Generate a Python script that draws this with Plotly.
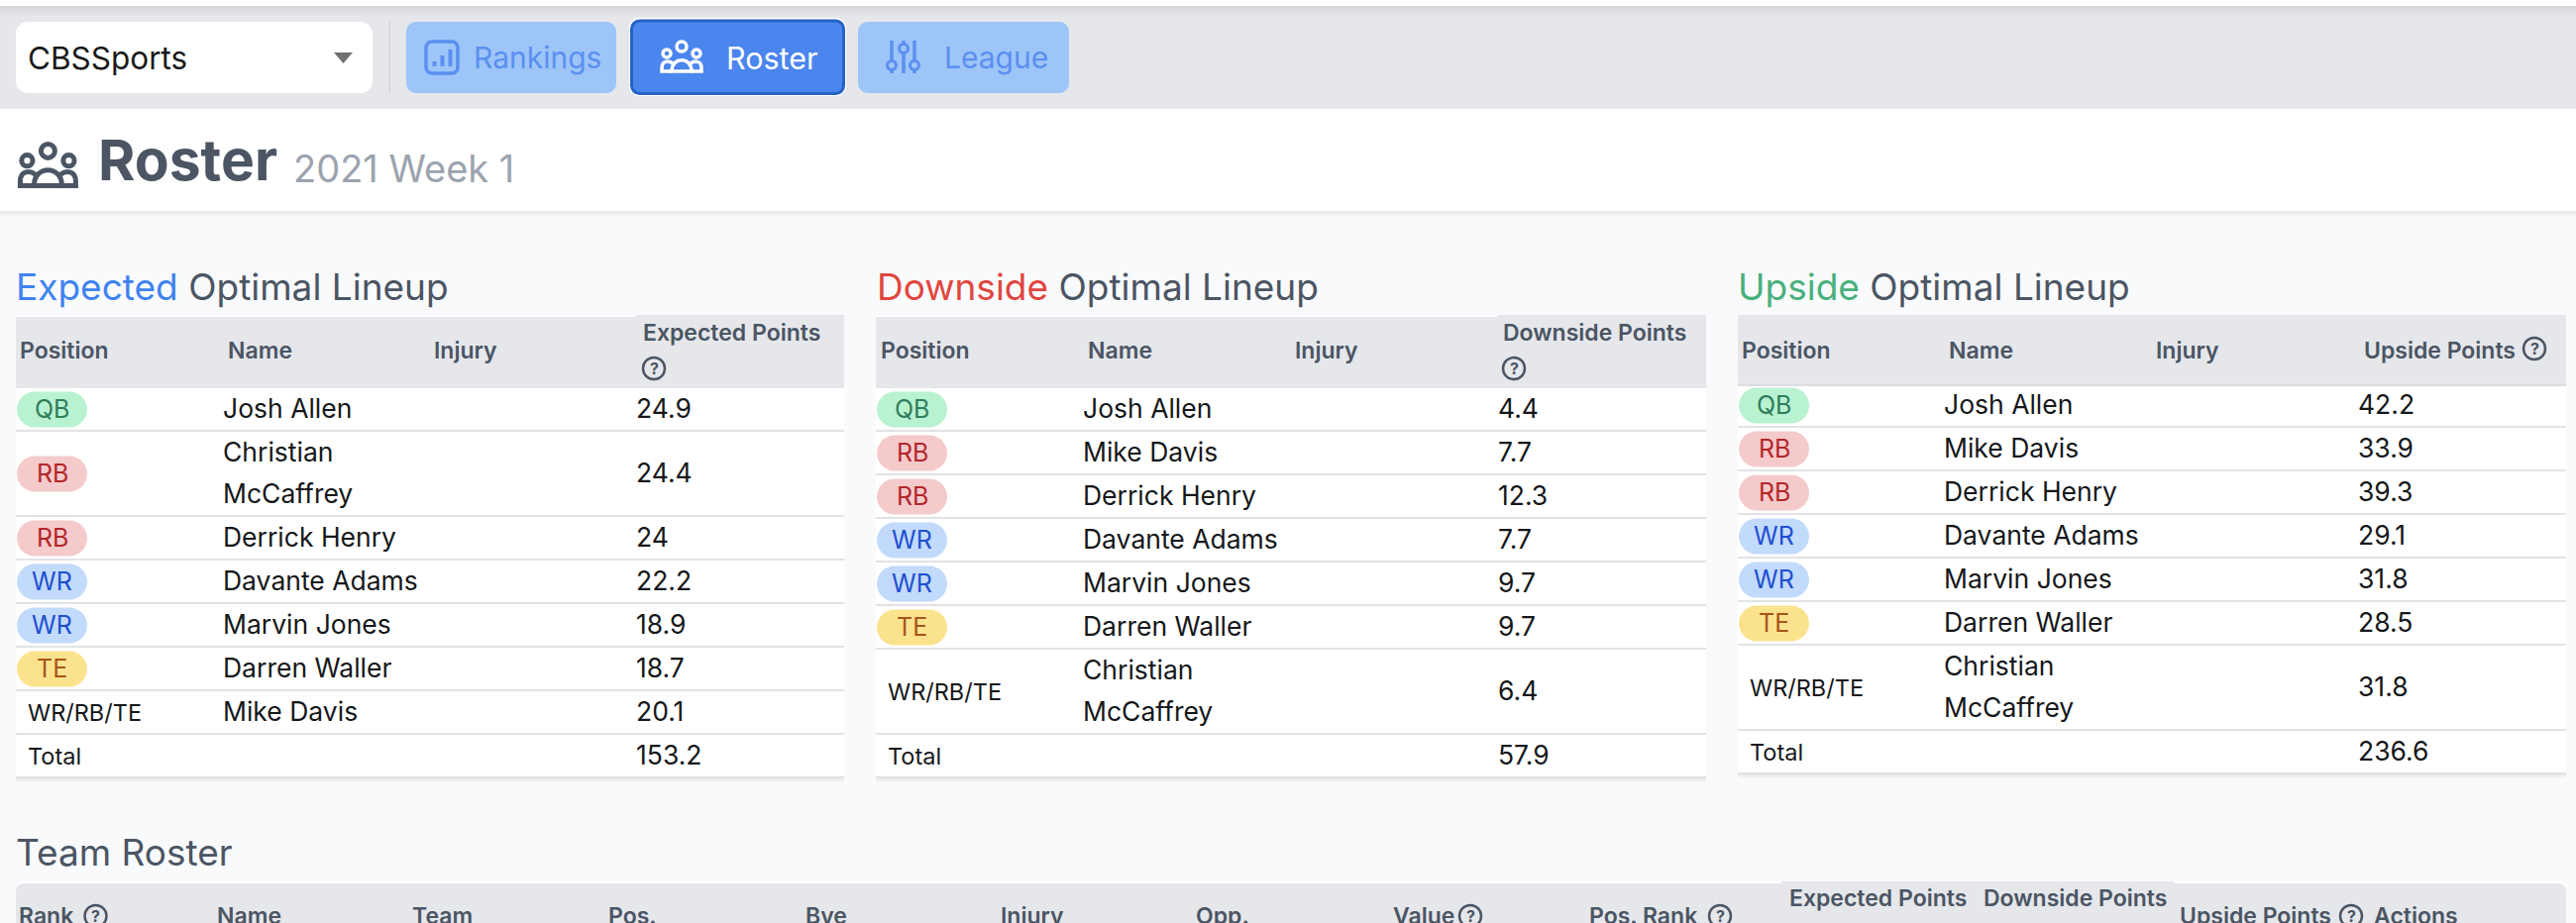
import plotly.graph_objects as go

# table contents
expected_pos = ['QB', 'RB', 'RB', 'WR', 'WR', 'TE', 'WR/RB/TE', 'Total']
expected_names = ['Josh Allen', 'Christian<br>McCaffrey', 'Derrick Henry', 'Davante Adams', 'Marvin Jones', 'Darren Waller', 'Mike Davis', '']
expected_points = ['24.9', '24.4', '24', '22.2', '18.9', '18.7', '20.1', '153.2']

downside_pos = ['QB', 'RB', 'RB', 'WR', 'WR', 'TE', 'WR/RB/TE', 'Total']
downside_names = ['Josh Allen', 'Mike Davis', 'Derrick Henry', 'Davante Adams', 'Marvin Jones', 'Darren Waller', 'Christian<br>McCaffrey', '']
downside_points = ['4.4', '7.7', '12.3', '7.7', '9.7', '9.7', '6.4', '57.9']

upside_pos = ['QB', 'RB', 'RB', 'WR', 'WR', 'TE', 'WR/RB/TE', 'Total']
upside_names = ['Josh Allen', 'Mike Davis', 'Derrick Henry', 'Davante Adams', 'Marvin Jones', 'Darren Waller', 'Christian<br>McCaffrey', '']
upside_points = ['42.2', '33.9', '39.3', '29.1', '31.8', '28.5', '31.8', '236.6']

roster_columns = ['Rank', 'Name', 'Team', 'Pos.', 'Bye', 'Injury', 'Opp.', 'Value', 'Pos. Rank',
                  'Expected Points', 'Downside Points', 'Upside Points', 'Actions']
nav_labels = ['Rankings', 'Roster', 'League']

FONT = 'Inter, Liberation Sans, sans-serif'
GRAY = '#4b5563'
INK = '#15171a'
pill_colors = {
    'QB': ('#b9f2d1', '#2f7d5b'),
    'RB': ('#f5caca', '#b3262a'),
    'WR': ('#c2dafb', '#1f4fd0'),
    'TE': ('#fbe38e', '#a8541a'),
}

W, H = 2600, 932
shapes = []
annotations = []


def text(x, y, s, size, color=INK, anchor='left', weight=None):
    # Inter sits a little right of the box edge
    annotations.append(dict(
        x=x - 2 if anchor == 'left' else x, y=y, text=s, xref='x', yref='y', showarrow=False,
        xanchor=anchor, yanchor='middle', align='left', borderpad=0,
        font=dict(family=FONT, size=size, color=color, weight=weight),
    ))


def rect(x0, y0, x1, y1, color):
    shapes.append(dict(type='rect', x0=x0, y0=y0, x1=x1, y1=y1, fillcolor=color, line=dict(width=0), layer='above'))


def rrect(x0, y0, x1, y1, r, fill, line=None, lw=0):
    c = r * 0.45
    path = (f'M{x0 + r},{y0} L{x1 - r},{y0} C{x1 - c},{y0} {x1},{y0 + c} {x1},{y0 + r} '
            f'L{x1},{y1 - r} C{x1},{y1 - c} {x1 - c},{y1} {x1 - r},{y1} '
            f'L{x0 + r},{y1} C{x0 + c},{y1} {x0},{y1 - c} {x0},{y1 - r} '
            f'L{x0},{y0 + r} C{x0},{y0 + c} {x0 + c},{y0} {x0 + r},{y0} Z')
    shapes.append(dict(type='path', path=path, fillcolor=fill, line=dict(width=lw, color=line or fill), layer='above'))


def circle(cx, cy, r, line, lw, fill='rgba(0,0,0,0)'):
    shapes.append(dict(type='circle', x0=cx - r, y0=cy - r, x1=cx + r, y1=cy + r,
                       fillcolor=fill, line=dict(width=lw, color=line), layer='above'))


def stroke(path, color, lw):
    shapes.append(dict(type='path', path=path, line=dict(width=lw, color=color), layer='above'))


def shadow(x0, x1, y, steps, alpha=0.05):
    for i in range(steps):
        rect(x0, y + i, x1, y + i + 1, f'rgba(0,0,0,{alpha * (steps - i) / steps * 2:.3f})')


def users_icon(x, y, k, color, lw):
    # 40 x 32 box, same glyph on the button and next to the page title
    circle(x + 21 * k, y + 6 * k, 5 * k, color, lw)
    circle(x + 6 * k, y + 13 * k, 4 * k, color, lw)
    circle(x + 36 * k, y + 13 * k, 4 * k, color, lw)
    px = lambda a, b: f'{x + a * k:.1f},{y + b * k:.1f}'
    stroke(f'M{px(11, 31)} C{px(11, 16)} {px(31, 16)} {px(31, 31)} Z', color, lw)
    stroke(f'M{px(12, 23)} C{px(8, 20)} {px(1, 20)} {px(1, 28)} L{px(1, 31)} L{px(11, 31)}', color, lw)
    stroke(f'M{px(30, 23)} C{px(34, 20)} {px(41, 20)} {px(41, 28)} L{px(41, 31)} L{px(31, 31)}', color, lw)


def help_icon(cx, cy):
    circle(cx, cy, 11, GRAY, 2.5)
    text(cx, cy, '?', 16, GRAY, 'center', 700)


def lineup(left, right, head_bottom, pos, names, points, cols, label, wrap_header, accent, title_x):
    rect(left, 318, right, head_bottom, '#e5e7eb')
    if wrap_header:
        rect(left, 318, cols[2] - 2, 320, '#ffffff')
    text(title_x, 289, f'<span style="color:{accent}">{label}</span> Optimal Lineup', 37, GRAY)
    text(cols[0] + 1, 354, 'Position', 23, GRAY, weight=600)
    text(cols[1] + 1, 354, 'Name', 23, GRAY, weight=600)
    text(cols[4] + 1, 354, 'Injury', 23, GRAY, weight=600)
    y = head_bottom
    for p, n, v in zip(pos, names, points):
        lines = n.split('<br>')
        h = 84 if len(lines) > 1 else 42
        rect(left, y, right, y + h, '#ffffff')
        mid = y + h / 2
        if p in pill_colors:
            bg, fg = pill_colors[p]
            rrect(left + 1, mid - 17.5, left + 72, mid + 18.5, 18, bg)
            text(left + 36.5, mid, p, 25, fg, 'center')
        else:
            text(left + 13, mid, p, 23.5)
        if n:
            for i, line in enumerate(lines):
                text(cols[3], mid - 1 + (2 * i - len(lines) + 1) * 21, line, 26.5)
        text(cols[5], mid - 1, v, 26.5)
        y += h
        if p != 'Total':
            rect(left, y, right, y + 2, '#e2e3e6')
            y += 2
    shadow(left, right, y, 6)
    return y


fig = go.Figure()

# page
rect(0, 0, W, H, '#f9fafb')
rect(0, 0, W, 6, '#ffffff')
rect(0, 6, W, 110, '#e5e7eb')
shadow(0, W, 6, 10, 0.035)
rect(0, 110, W, 213, '#ffffff')
shadow(0, W, 213, 6, 0.035)

# toolbar
rrect(16, 22, 376, 94, 12, '#ffffff')
text(29, 58.5, 'CBSSports', 31.5, '#1a1a1a')
shapes.append(dict(type='path', path='M337,53 L356,53 L346.5,64 Z', fillcolor='#707070', line=dict(width=0), layer='above'))
rect(392.5, 22, 394, 94, '#d1d3d8')
rrect(410, 22, 622, 94, 10, '#9dc5f8')
rrect(635, 18, 854, 97, 10, '#ffffff')
rrect(637.5, 21, 851.5, 94.5, 8, '#4b85ee', '#2563c4', 3)
rrect(866, 22, 1079, 94, 10, '#9dc5f8')
text(479, 58, nav_labels[0], 30, '#5b8ff0')
text(734, 58, nav_labels[1], 30.5, '#ffffff')
text(954, 58, nav_labels[2], 30, '#5b8ff0')

# rankings icon
rrect(430, 42, 462, 74, 6, 'rgba(0,0,0,0)', '#5b8ff0', 3.5)
stroke('M438.5,67 L438.5,62', '#5b8ff0', 4)
stroke('M446.5,67 L446.5,56', '#5b8ff0', 4)
stroke('M454.5,67 L454.5,50', '#5b8ff0', 4)
# roster icon
users_icon(667, 41, 1, '#ffffff', 3.5)
# league icon
for lx, ky in [(900, 66), (912, 49), (923, 66)]:
    stroke(f'M{lx},41 L{lx},74', '#5b8ff0', 3.5)
    circle(lx, ky, 4.5, '#5b8ff0', 3, '#9dc5f8')

# page title
users_icon(19, 144, 1.4, GRAY, 5)
text(100, 161.5, 'Roster', 57, GRAY, weight=700)
text(297, 170, '2021 Week 1', 38, '#9ca3af')

# optimal lineups
lineup(16, 852, 392, expected_pos, expected_names, expected_points, [20, 230, 644, 226, 438, 643],
       'Expected', True, '#3f83f0', 17)
text(649.5, 336, 'Expected Points', 23, GRAY, weight=600)
help_icon(660, 372)

lineup(884, 1722, 392, downside_pos, downside_names, downside_points, [889, 1098, 1513, 1094, 1307, 1513],
       'Downside', True, '#e0463f', 886)
text(1517.5, 336, 'Downside Points', 23, GRAY, weight=600)
help_icon(1528, 372)

lineup(1754, 2590, 388, upside_pos, upside_names, upside_points, [1758, 1967, 2381, 1963, 2176, 2381],
       'Upside', False, '#48b07c', 1755)
rect(1754, 388, 2590, 390, '#dcdde0')
text(2386.5, 354, 'Upside Points', 23, GRAY, weight=600)
help_icon(2558, 352)

# team roster table, cut off by the window
text(17, 860.5, 'Team Roster', 37, GRAY)
rrect(16, 890, 2590, 960, 8, '#ffffff')
rrect(16, 892, 2590, 960, 8, '#e5e7eb')
rect(1798, 890, 2194, 893, '#e5e7eb')
col_x = [20, 220, 417, 615, 814, 1011, 1208, 1407, 1605, 1807, 2003, 2201, 2397]
for name, cx in zip(roster_columns, col_x):
    cy = 907 if name in ('Expected Points', 'Downside Points') else 925
    text(cx, cy, name, 23, GRAY, weight=600)
for cx in [96.5, 1484, 1736, 2373]:
    help_icon(cx, 925)

fig.update_layout(
    width=W, height=H,
    margin=dict(l=0, r=0, t=0, b=0),
    paper_bgcolor='#f9fafb', plot_bgcolor='#f9fafb',
    xaxis=dict(range=[0, W], visible=False, fixedrange=True),
    yaxis=dict(range=[H, 0], visible=False, fixedrange=True),
    shapes=shapes, annotations=annotations, showlegend=False,
)
fig.write_html('out.html', config=dict(displayModeBar=False),
               post_script="document.body.style.margin='0';document.body.style.overflow='hidden';")
